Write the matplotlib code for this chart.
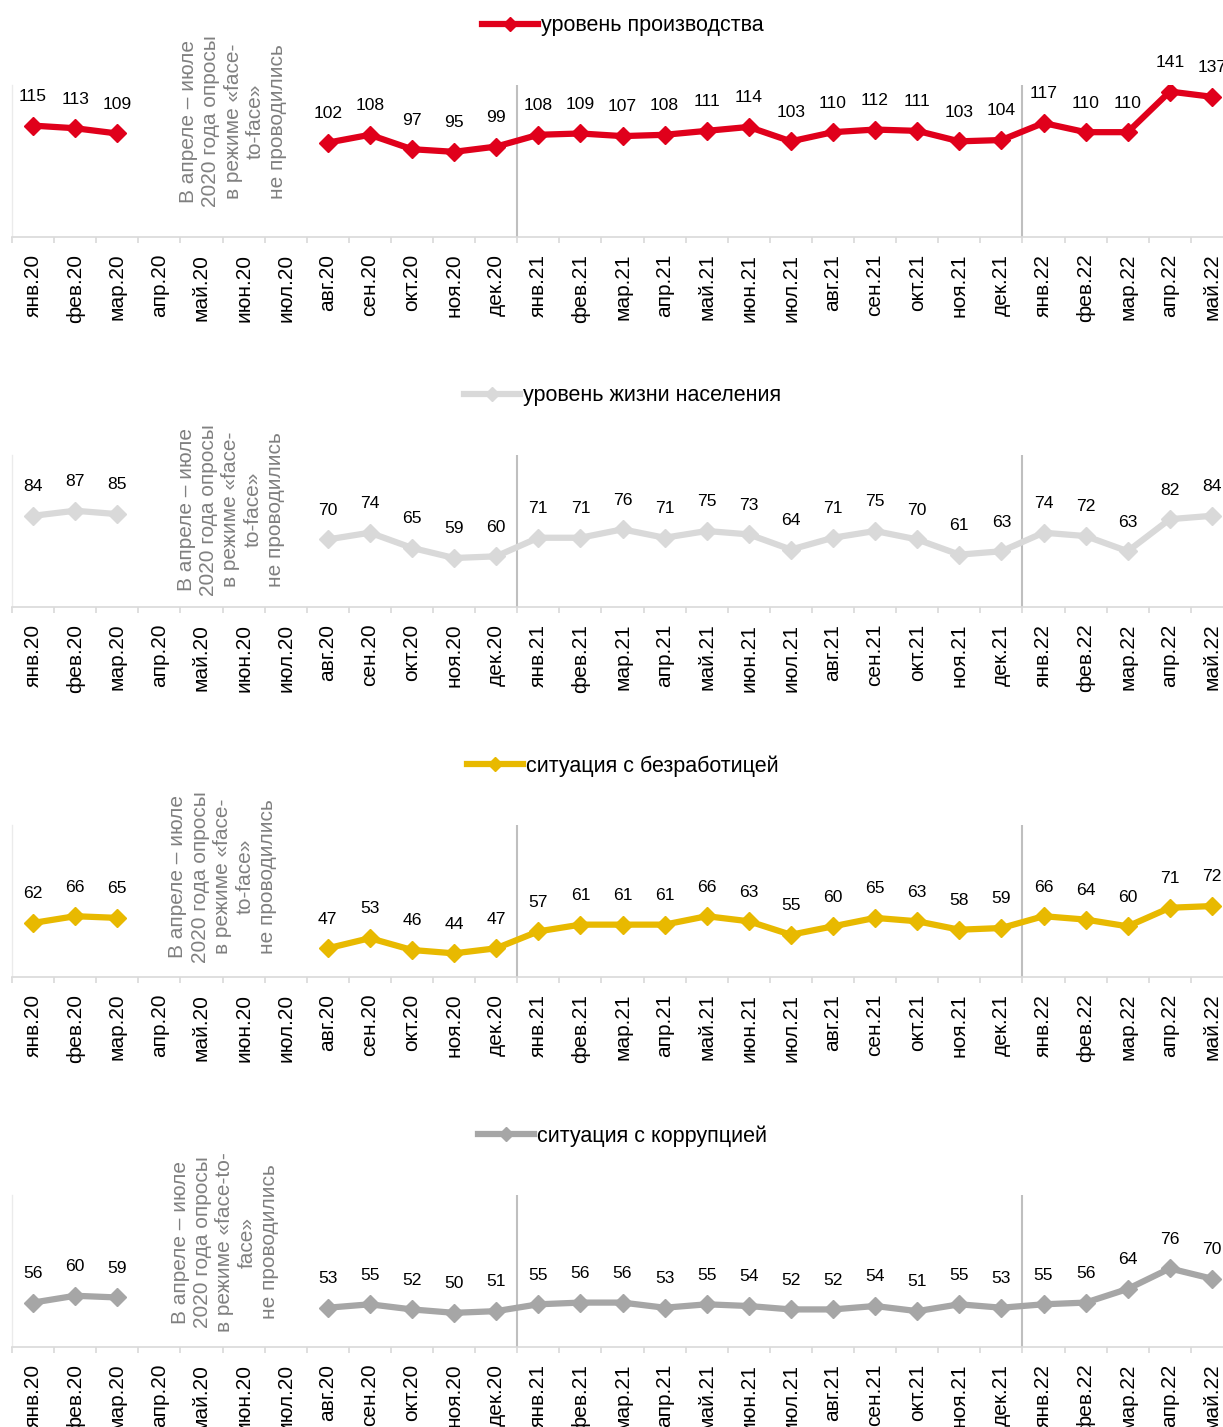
import numpy as np
import matplotlib
matplotlib.use("Agg")
import matplotlib.pyplot as plt
from matplotlib.lines import Line2D
from matplotlib.ticker import FixedLocator

plt.rcParams['font.family'] = ['Liberation Sans', 'DejaVu Sans']

months = ["янв.20", "фев.20", "мар.20", "апр.20", "май.20", "июн.20", "июл.20", "авг.20", "сен.20", "окт.20", "ноя.20", "дек.20",
          "янв.21", "фев.21", "мар.21", "апр.21", "май.21", "июн.21", "июл.21", "авг.21", "сен.21", "окт.21", "ноя.21", "дек.21",
          "янв.22", "фев.22", "мар.22", "апр.22", "май.22"]
nan = np.nan
production = [115, 113, 109, nan, nan, nan, nan, 102, 108, 97, 95, 99,
              108, 109, 107, 108, 111, 114, 103, 110, 112, 111, 103, 104,
              117, 110, 110, 141, 137]
living = [84, 87, 85, nan, nan, nan, nan, 70, 74, 65, 59, 60,
          71, 71, 76, 71, 75, 73, 64, 71, 75, 70, 61, 63,
          74, 72, 63, 82, 84]
unemployment = [62, 66, 65, nan, nan, nan, nan, 47, 53, 46, 44, 47,
                57, 61, 61, 61, 66, 63, 55, 60, 65, 63, 58, 59,
                66, 64, 60, 71, 72]
corruption = [56, 60, 59, nan, nan, nan, nan, 53, 55, 52, 50, 51,
              55, 56, 56, 53, 55, 54, 52, 52, 54, 51, 55, 53,
              55, 56, 64, 76, 70]

series_names = ["уровень производства", "уровень жизни населения", "ситуация с безработицей", "ситуация с коррупцией"]
series_values = [production, living, unemployment, corruption]
colors = ["#E0001B", "#D9D9D9", "#E8B900", "#A6A6A6"]
ylims = [(30, 146), (30, 120), (30, 120), (30, 119)]
note_main = "В апреле – июле\n2020 года опросы\nв режиме «face-\nto-face»\nне проводились"
note_last = "В апреле – июле\n2020 года опросы\nв режиме «face-to-\nface»\nне проводились"
notes = [note_main, note_main, note_main, note_last]
note_pos = [(4.75, 0.76), (4.7, 0.64), (4.5, 0.66), (4.55, 0.69)]

W, H = 1223, 1427
fig = plt.figure(figsize=(W / 100, H / 100), dpi=100)

x = np.arange(len(months))
for k in range(4):
    bottom_px = 237 + 370 * k
    height_px = 152
    ax = fig.add_axes([12 / W, 1 - bottom_px / H, 1221 / W, height_px / H])
    vals = np.array(series_values[k], dtype=float)
    ax.plot(x, vals, color=colors[k], lw=4.5, marker='D', markersize=9,
            solid_joinstyle='round', solid_capstyle='round', zorder=3)
    for xi, v in zip(x, vals):
        if not np.isnan(v):
            ax.annotate(f"{int(v)}", (xi, v), xytext=(0, 21), textcoords='offset points',
                        ha='center', va='center', fontsize=12.6, color='black',
                        annotation_clip=False)
    ax.set_xlim(-0.5, len(months) - 0.5)
    ax.set_ylim(*ylims[k])
    ax.set_yticks([])
    ax.set_xticks(x)
    ax.set_xticklabels(months, rotation=90, fontsize=15)
    ax.tick_params(axis='x', which='major', length=0, pad=12)
    ax.xaxis.set_minor_locator(FixedLocator(np.arange(-0.5, len(months), 1.0)))
    ax.tick_params(axis='x', which='minor', length=4.5, width=1.2, color='#D9D9D9')
    for s in ['top', 'right']:
        ax.spines[s].set_visible(False)
    ax.spines['bottom'].set_color('#D9D9D9')
    ax.spines['bottom'].set_linewidth(1.2)
    ax.spines['left'].set_color('#EBEBEB')
    ax.spines['left'].set_linewidth(1.0)
    for bx in [11.5, 23.5]:
        ax.axvline(bx, color='#BFBFBF', lw=1.5, zorder=1)
    nx, ny = note_pos[k]
    ax.text(nx, ny, notes[k], transform=ax.get_xaxis_transform(), rotation=90,
            ha='center', va='center', multialignment='center', fontsize=15,
            color='#808080', linespacing=1.22)
    handle = Line2D([], [], color=colors[k], lw=4.5, marker='D', markersize=7)
    ax.legend([handle], [series_names[k]], loc='center', bbox_to_anchor=(0.5, (59 + 152) / 152),
              frameon=False, fontsize=15.5, handlelength=2.6, handletextpad=0.15,
              borderaxespad=0, borderpad=0)

fig.savefig("out.png", dpi=100)
